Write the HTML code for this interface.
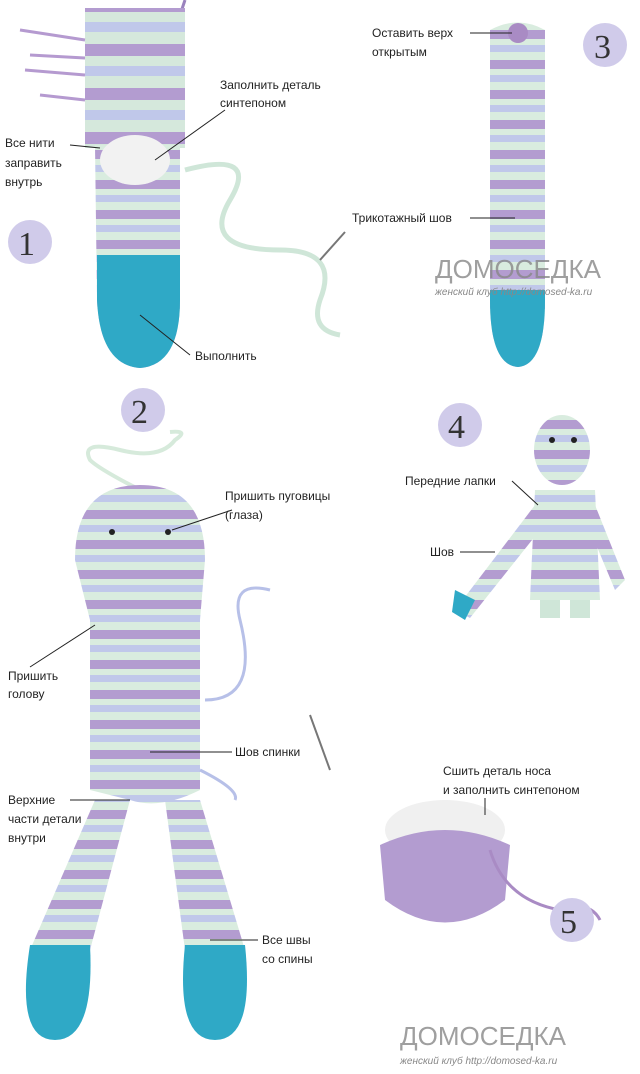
<!DOCTYPE html>
<html><head><meta charset="utf-8"><style>
html,body{margin:0;padding:0;background:#fff}
svg{display:block}
text{font-family:"Liberation Sans",sans-serif;font-size:12px;fill:#222}
.n{font-family:"Liberation Serif",serif;font-size:34px;fill:#333}
.w{font-family:"Liberation Sans",sans-serif;font-size:26px;fill:#888;opacity:.8}
.ws{font-size:10px;fill:#888;font-style:italic}
</style></head><body>
<svg width="640" height="1074" viewBox="0 0 640 1074">
<defs>
<pattern id="st" width="40" height="44" patternUnits="userSpaceOnUse">
<rect width="40" height="44" fill="#d5e8dc"/>
<rect y="0" width="40" height="12" fill="#b39cd0"/>
<rect y="22" width="40" height="10" fill="#c0c8ea"/>
</pattern>
<pattern id="st2" width="40" height="30" patternUnits="userSpaceOnUse">
<rect width="40" height="30" fill="#d9ecdf"/>
<rect y="0" width="40" height="9" fill="#b39cd0"/>
<rect y="15" width="40" height="7" fill="#c0c8ea"/>
</pattern>
</defs>
<!-- Panel 1 -->
<path d="M185 0 L180 15" stroke="#9a82bd" stroke-width="3"/>
<rect x="85" y="8" width="100" height="140" fill="url(#st)"/>
<path d="M95 145 L180 145 L180 300 Q180 365 140 368 Q100 365 97 300 Z" fill="url(#st2)"/>
<path d="M97 255 L180 255 L180 300 Q180 365 140 368 Q100 365 97 300 Z" fill="#2fa9c6"/>
<ellipse cx="135" cy="160" rx="35" ry="25" fill="#f2f2f2"/>
<path d="M20 30 L85 40 M25 70 L85 75 M40 95 L85 100 M30 55 L85 58" stroke="#b59ad0" stroke-width="3"/>
<path d="M185 170 Q260 150 230 200 Q200 250 280 250 Q340 250 320 300 Q310 330 340 335" stroke="#cfe6d8" stroke-width="5" fill="none"/>
<path d="M320 260 L345 232" stroke="#777" stroke-width="2"/>
<circle cx="30" cy="242" r="22" fill="#d0cbea"/><text class="n" x="18" y="255">1</text>
<text x="5" y="147">Все нити</text><text x="5" y="167">заправить</text><text x="5" y="186">внутрь</text>
<line x1="70" y1="145" x2="100" y2="148" stroke="#222"/>
<text x="220" y="89">Заполнить деталь</text><text x="220" y="107">синтепоном</text>
<line x1="225" y1="110" x2="155" y2="160" stroke="#222"/>
<text x="195" y="360">Выполнить</text>
<line x1="190" y1="355" x2="140" y2="315" stroke="#222"/>
<!-- Panel 3 -->
<path d="M490 30 Q518 15 545 30 L545 300 Q545 365 518 367 Q490 365 490 300 Z" fill="url(#st2)"/>
<path d="M490 290 L545 290 L545 300 Q545 365 518 367 Q490 365 490 300 Z" fill="#2fa9c6"/>
<circle cx="518" cy="33" r="10" fill="#a98bc4"/>
<circle cx="605" cy="45" r="22" fill="#d0cbea"/><text class="n" x="594" y="58">3</text>
<text x="372" y="37">Оставить верх</text><text x="372" y="56">открытым</text>
<line x1="470" y1="33" x2="512" y2="33" stroke="#222"/>
<text x="352" y="222">Трикотажный шов</text>
<line x1="470" y1="218" x2="515" y2="218" stroke="#222"/>
<text class="w" x="435" y="278">ДОМОСЕДКА</text>
<text class="ws" x="435" y="295">женский клуб http://domosed-ka.ru</text>
<!-- Panel 2 -->
<circle cx="143" cy="410" r="22" fill="#d0cbea"/><text class="n" x="131" y="423">2</text>
<path d="M150 495 Q100 470 90 460 Q80 440 120 450 Q160 460 175 440 Q190 430 170 432" stroke="#d6eadb" stroke-width="4" fill="none"/>
<path d="M75 560 Q75 485 140 485 Q205 485 205 560 L200 620 L200 790 Q160 810 130 800 L90 790 L90 620 Z" fill="url(#st2)"/>
<path d="M95 800 L130 800 L90 950 L30 950 Z" fill="url(#st2)"/>
<path d="M165 800 L200 800 L245 950 L185 950 Z" fill="url(#st2)"/>
<path d="M30 945 L90 945 Q95 1040 55 1040 Q15 1040 30 945 Z" fill="#2fa9c6"/>
<path d="M185 945 L245 945 Q255 1040 215 1040 Q175 1040 185 945 Z" fill="#2fa9c6"/>
<circle cx="112" cy="532" r="3" fill="#222"/><circle cx="168" cy="532" r="3" fill="#222"/>
<path d="M205 700 Q260 700 240 620 Q230 580 270 590 M200 770 Q240 790 235 800" stroke="#b7c0e8" stroke-width="3" fill="none"/>
<path d="M310 715 L330 770" stroke="#777" stroke-width="2"/>
<text x="225" y="500">Пришить пуговицы</text><text x="225" y="519">(глаза)</text>
<line x1="232" y1="510" x2="172" y2="530" stroke="#222"/>
<text x="8" y="680">Пришить</text><text x="8" y="698">голову</text>
<line x1="30" y1="667" x2="95" y2="625" stroke="#222"/>
<text x="235" y="756">Шов спинки</text>
<line x1="232" y1="752" x2="150" y2="752" stroke="#222"/>
<text x="8" y="804">Верхние</text><text x="8" y="823">части детали</text><text x="8" y="842">внутри</text>
<line x1="70" y1="800" x2="130" y2="800" stroke="#222"/>
<text x="262" y="944">Все швы</text><text x="262" y="963">со спины</text>
<line x1="258" y1="940" x2="210" y2="940" stroke="#222"/>
<!-- Panel 4 -->
<circle cx="460" cy="425" r="22" fill="#d0cbea"/><text class="n" x="448" y="438">4</text>
<ellipse cx="562" cy="450" rx="28" ry="35" fill="url(#st2)"/>
<circle cx="552" cy="440" r="3" fill="#222"/><circle cx="574" cy="440" r="3" fill="#222"/>
<path d="M535 490 L595 490 L600 600 L530 600 Z" fill="url(#st2)"/>
<path d="M535 505 L455 610 L470 618 L540 530 Z" fill="url(#st2)"/>
<path d="M455 590 L475 600 L465 620 L452 612 Z" fill="#2fa9c6"/>
<path d="M595 505 L625 580 L615 590 L590 530 Z" fill="url(#st2)"/>
<rect x="540" y="600" width="20" height="18" fill="#cfe6d8"/><rect x="570" y="600" width="20" height="18" fill="#cfe6d8"/>
<text x="405" y="485">Передние лапки</text>
<line x1="512" y1="481" x2="538" y2="505" stroke="#222"/>
<text x="430" y="556">Шов</text>
<line x1="460" y1="552" x2="495" y2="552" stroke="#222"/>
<!-- Panel 5 -->
<ellipse cx="445" cy="830" rx="60" ry="30" fill="#f0f0f0"/>
<path d="M380 845 Q445 815 510 845 L505 900 Q445 945 385 900 Z" fill="#b39cd0"/>
<path d="M490 850 Q505 900 560 910 Q590 900 600 920" stroke="#a98bc4" stroke-width="3" fill="none"/>
<circle cx="572" cy="920" r="22" fill="#d0cbea"/><text class="n" x="560" y="933">5</text>
<text x="443" y="775">Сшить деталь носа</text><text x="443" y="794">и заполнить синтепоном</text>
<line x1="485" y1="798" x2="485" y2="815" stroke="#222"/>
<text class="w" x="400" y="1045">ДОМОСЕДКА</text>
<text class="ws" x="400" y="1064">женский клуб http://domosed-ka.ru</text>
</svg>
</body></html>
